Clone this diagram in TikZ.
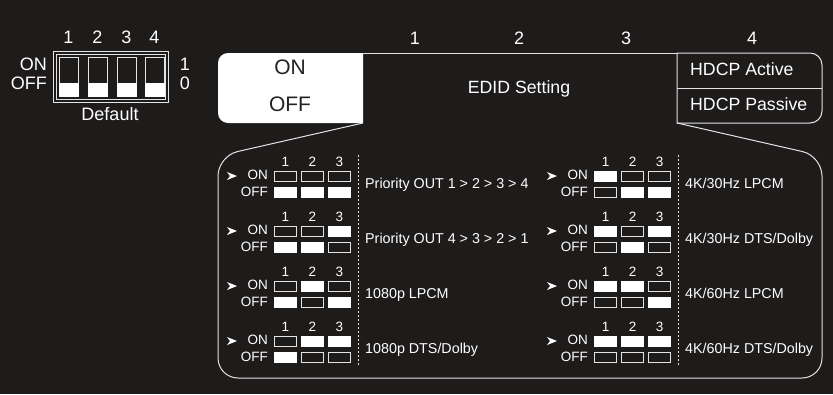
\documentclass[tikz,border=0pt]{standalone}
\usepackage{fontspec}
\setmainfont{Liberation Sans}
\definecolor{bgc}{HTML}{1E1B1B}
\definecolor{linec}{HTML}{E4E4E4}
\definecolor{darktxt}{HTML}{222222}
\tikzset{
  ln/.style={draw=linec,line width=1pt},
  cellline/.style={draw=linec,line width=0.9pt},
  txt/.style={text=white,inner sep=0pt,text height=0.72em,text depth=0pt},
  smalltxt/.style={txt,font=\fontsize{13.5}{13.5}\selectfont},
  lbltxt/.style={txt,font=\fontsize{14.3}{14.3}\selectfont},
  hdrtxt/.style={txt,font=\fontsize{17.7}{17.7}\selectfont},
  bigtxt/.style={txt,font=\fontsize{18}{18}\selectfont},
  boxtxt/.style={txt,text=darktxt,font=\fontsize{21}{21}\selectfont},
  dashline/.style={draw=linec,line width=0.9pt,dash pattern=on 2pt off 2pt},
}
\newcommand{\dipblock}[7]{%
\begin{scope}[shift={(#2,#3)}]
  \fill[white] (-42,13) +(-5,-4) -- +(5,0) -- +(-5,4) -- +(-2,0) -- cycle;
  \node[smalltxt,anchor=east] (#1on) at (-6,13) {ON};
  \node[smalltxt,anchor=east] (#1off) at (-6,29.5) {OFF};
  \foreach \c/\b/\n in {0/#4/1,1/#5/2,2/#6/3}{
    \node[smalltxt] (#1num\n) at (11.5+27*\c,0) {\n};
    \ifnum\b=1
      \fill[white] (27*\c,8) rectangle (27*\c+23,18.5);
      \draw[cellline] (27*\c+0.5,24.5) rectangle (27*\c+22.5,34.5);
    \else
      \draw[cellline] (27*\c+0.5,8.5) rectangle (27*\c+22.5,18);
      \fill[white] (27*\c,24) rectangle (27*\c+23,35);
    \fi
  }
  \node[lbltxt,anchor=west] (#1lbl) at (91,22) {#7};
\end{scope}}
\begin{document}
\begin{tikzpicture}[x=1pt,y=-1pt]
\fill[bgc] (0,0) rectangle (833,394);
\useasboundingbox (0,0) rectangle (833,394);

% top-left default DIP switch
\foreach \n/\x in {1/68.5,2/97.5,3/126.5,4/154.5}
  \node[bigtxt] (dn\n) at (\x,40) {\n};
\draw[ln] (53,51) rectangle (168,102);
\draw[ln] (56,54) rectangle (165,99);
\foreach \x in {59,88,117,145}{
  \draw[ln] (\x+0.5,57.5) rectangle (\x+19,96);
  \fill[white] (\x,83) rectangle (\x+19.5,96.5);
}
\node[bigtxt,anchor=east] (don) at (47,67) {ON};
\node[bigtxt,anchor=east] (doff) at (47,86) {OFF};
\node[bigtxt] (d1) at (185,67) {1};
\node[bigtxt] (d0) at (185,86) {0};
\node[bigtxt] (ddef) at (110,117) {Default};

% header
\foreach \n/\x in {1/415,2/519,3/626,4/752}
  \node[bigtxt] (hn\n) at (\x,41) {\n};
\fill[white] (363,53) [rounded corners=10pt] -- (218,53) -- (218,123) [sharp corners] -- (363,123) -- cycle;
\node[boxtxt] (hon) at (290,71) {ON};
\node[boxtxt] (hoff) at (290,108) {OFF};
\draw[ln] (363,53) -- (677,53);
\draw[ln] (677,53) [rounded corners=12pt] -- (822,53) -- (822,123) [sharp corners] -- (677,123) -- cycle;
\draw[ln] (677,88) -- (822,88);
\node[hdrtxt] (edid) at (519,90) {EDID Setting};
\node[hdrtxt,anchor=west] (hact) at (690,72) {HDCP Active};
\node[hdrtxt,anchor=west] (hpas) at (690,107) {HDCP Passive};

% detail box
\draw[ln] (363,123) [rounded corners=20pt] -- (218,156) -- (218,378) -- (822,378) -- (822,156) [sharp corners] -- (677,123);
\coordinate (dlt) at (358,155); \coordinate (dlb) at (358,366);
\coordinate (drt) at (678,155); \coordinate (drb) at (678,366);
\draw[dashline] (dlt) -- (dlb);
\draw[dashline] (drt) -- (drb);

\dipblock{la}{274}{163}{0}{0}{0}{Priority OUT 1 > 2 > 3 > 4}
\dipblock{lb}{274}{218}{0}{0}{1}{Priority OUT 4 > 3 > 2 > 1}
\dipblock{lc}{274}{273}{0}{1}{0}{1080p LPCM}
\dipblock{ld}{274}{328}{0}{1}{1}{1080p DTS/Dolby}
\dipblock{ra}{594}{163}{1}{0}{0}{4K/30Hz LPCM}
\dipblock{rb}{594}{218}{1}{0}{1}{4K/30Hz DTS/Dolby}
\dipblock{rc}{594}{273}{1}{1}{0}{4K/60Hz LPCM}
\dipblock{rd}{594}{328}{1}{1}{1}{4K/60Hz DTS/Dolby}
\end{tikzpicture}
\end{document}
